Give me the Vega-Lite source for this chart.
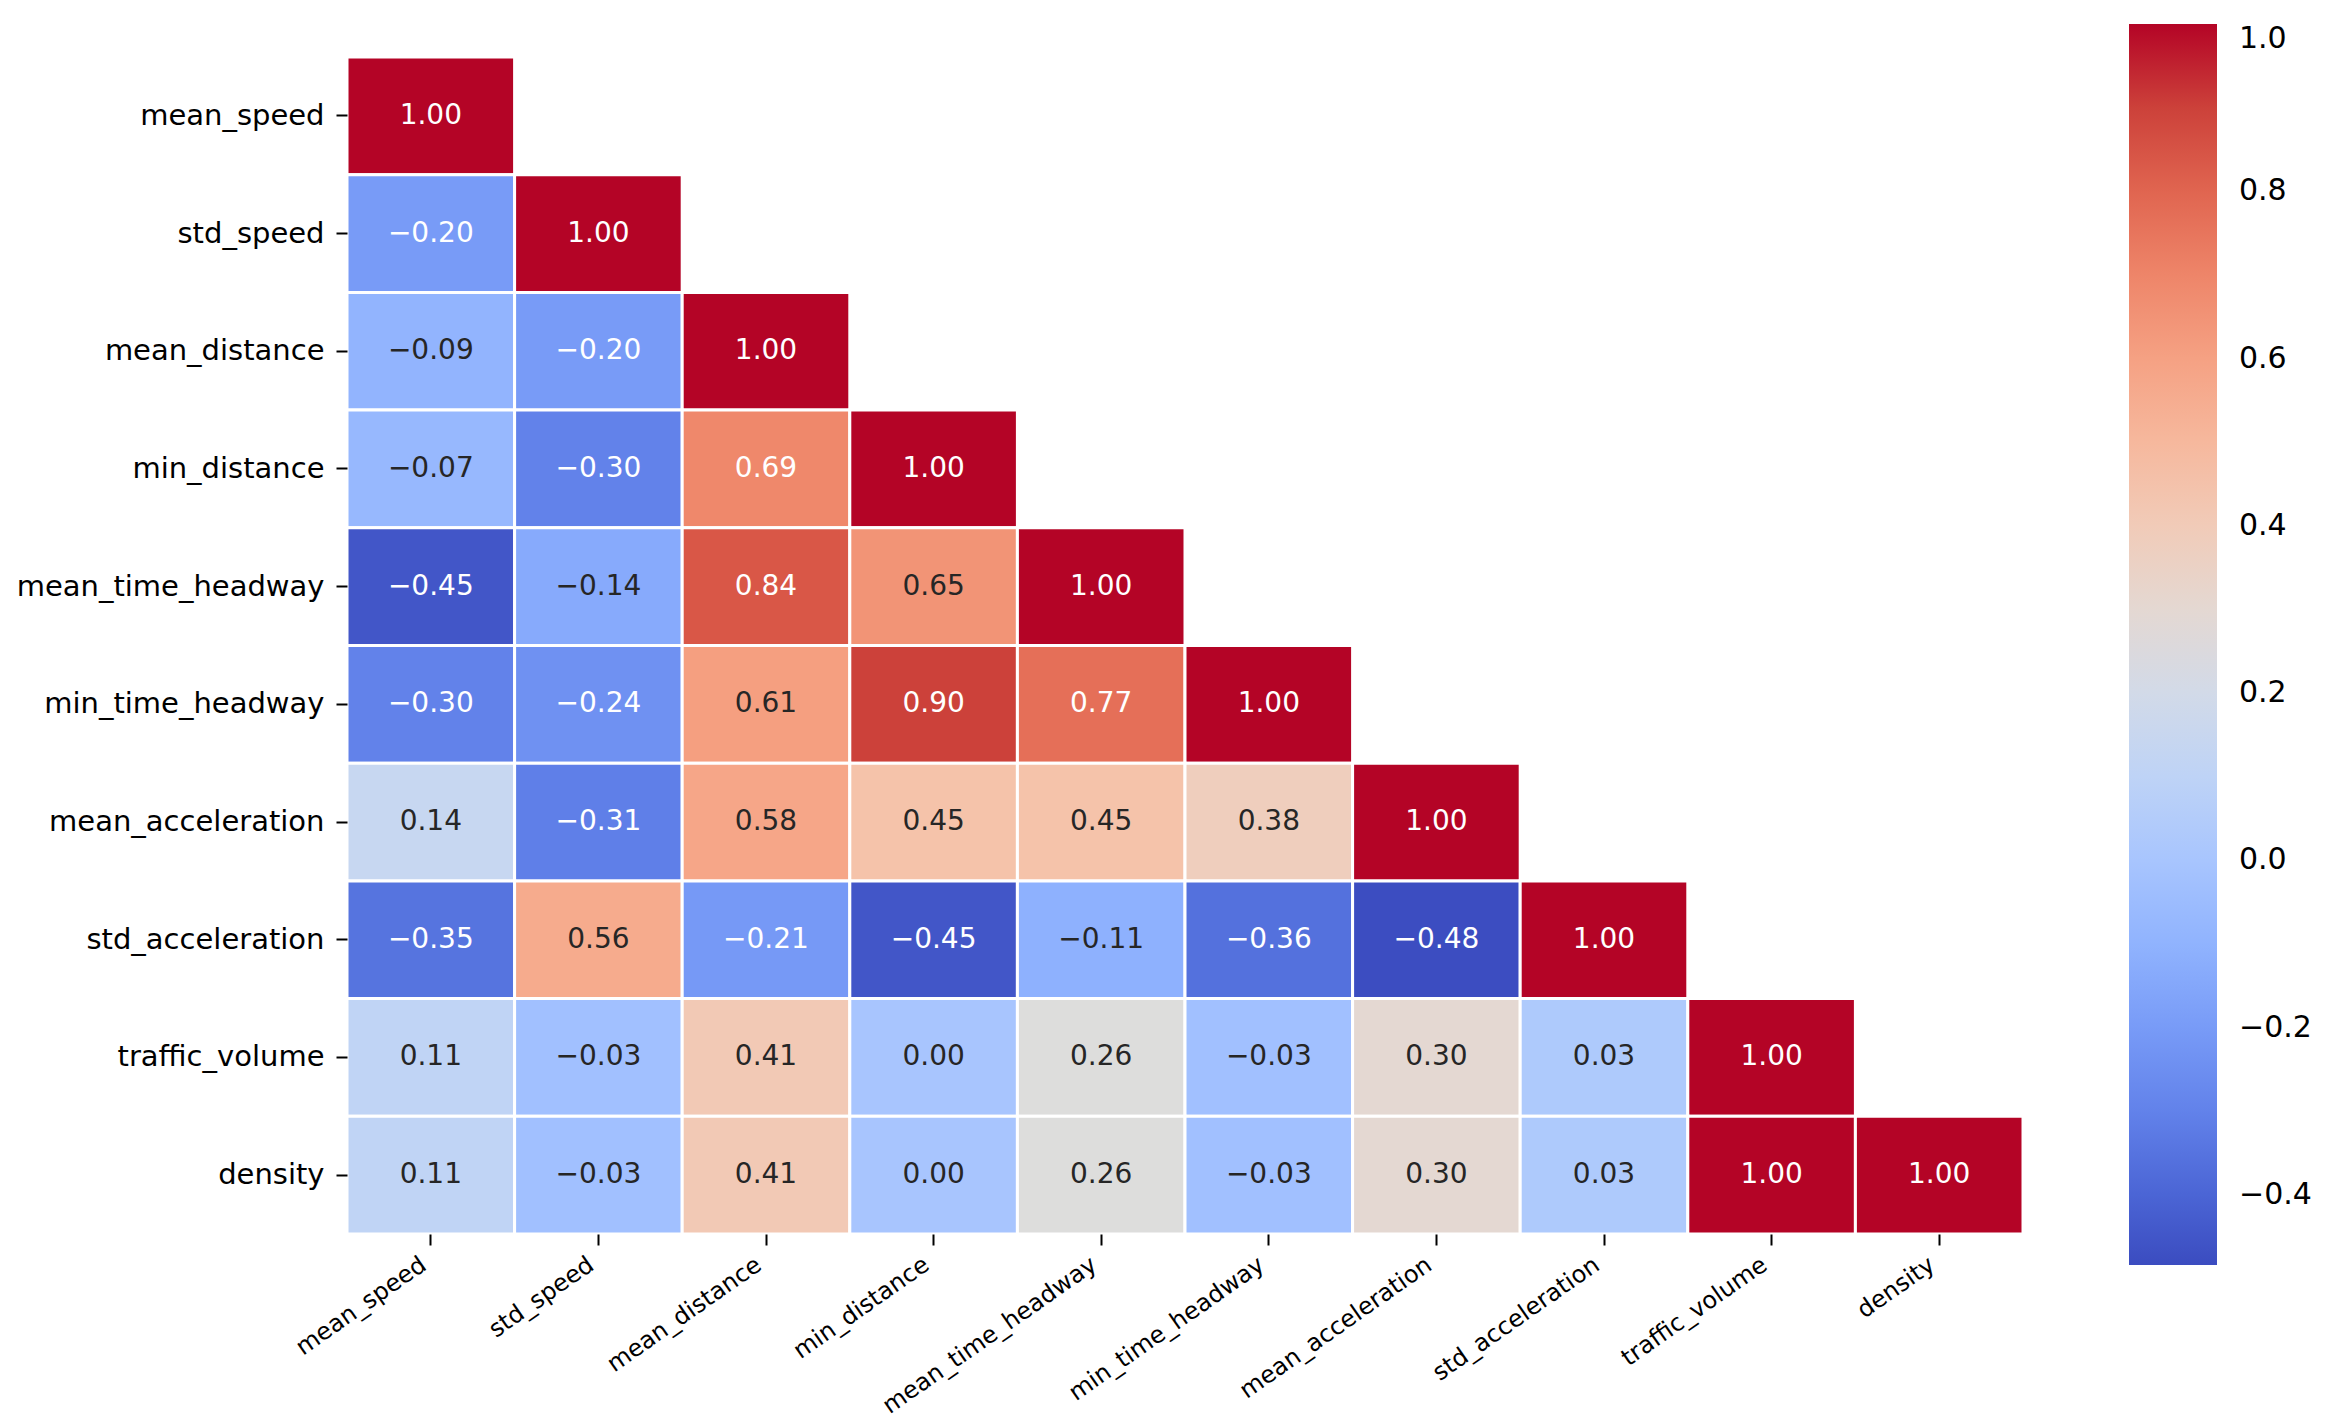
{
  "$schema": "https://vega.github.io/schema/vega-lite/v6.json",
  "autosize": {"type": "none"},
  "padding": {"left": 347, "top": 57, "right": 302, "bottom": 194},
  "width": 1676,
  "height": 1177,
  "background": "white",
  "config": {
    "view": {"stroke": null},
    "font": "DejaVu Sans",
    "axis": {"labelFont": "DejaVu Sans", "labelFontSize": 29, "labelColor": "black", "labelLimit": 1000, "tickColor": "black", "tickWidth": 2, "tickSize": 11, "domain": false, "grid": false, "title": null},
    "legend": {"labelFont": "DejaVu Sans", "labelFontSize": 30, "labelColor": "black", "labelLimit": 1000}
  },
  "data": {"values": [
    {"row": "mean_speed", "col": "mean_speed", "value": 1.00},
    {"row": "std_speed", "col": "mean_speed", "value": -0.20},
    {"row": "std_speed", "col": "std_speed", "value": 1.00},
    {"row": "mean_distance", "col": "mean_speed", "value": -0.09},
    {"row": "mean_distance", "col": "std_speed", "value": -0.20},
    {"row": "mean_distance", "col": "mean_distance", "value": 1.00},
    {"row": "min_distance", "col": "mean_speed", "value": -0.07},
    {"row": "min_distance", "col": "std_speed", "value": -0.30},
    {"row": "min_distance", "col": "mean_distance", "value": 0.69},
    {"row": "min_distance", "col": "min_distance", "value": 1.00},
    {"row": "mean_time_headway", "col": "mean_speed", "value": -0.45},
    {"row": "mean_time_headway", "col": "std_speed", "value": -0.14},
    {"row": "mean_time_headway", "col": "mean_distance", "value": 0.84},
    {"row": "mean_time_headway", "col": "min_distance", "value": 0.65},
    {"row": "mean_time_headway", "col": "mean_time_headway", "value": 1.00},
    {"row": "min_time_headway", "col": "mean_speed", "value": -0.30},
    {"row": "min_time_headway", "col": "std_speed", "value": -0.24},
    {"row": "min_time_headway", "col": "mean_distance", "value": 0.61},
    {"row": "min_time_headway", "col": "min_distance", "value": 0.90},
    {"row": "min_time_headway", "col": "mean_time_headway", "value": 0.77},
    {"row": "min_time_headway", "col": "min_time_headway", "value": 1.00},
    {"row": "mean_acceleration", "col": "mean_speed", "value": 0.14},
    {"row": "mean_acceleration", "col": "std_speed", "value": -0.31},
    {"row": "mean_acceleration", "col": "mean_distance", "value": 0.58},
    {"row": "mean_acceleration", "col": "min_distance", "value": 0.45},
    {"row": "mean_acceleration", "col": "mean_time_headway", "value": 0.45},
    {"row": "mean_acceleration", "col": "min_time_headway", "value": 0.38},
    {"row": "mean_acceleration", "col": "mean_acceleration", "value": 1.00},
    {"row": "std_acceleration", "col": "mean_speed", "value": -0.35},
    {"row": "std_acceleration", "col": "std_speed", "value": 0.56},
    {"row": "std_acceleration", "col": "mean_distance", "value": -0.21},
    {"row": "std_acceleration", "col": "min_distance", "value": -0.45},
    {"row": "std_acceleration", "col": "mean_time_headway", "value": -0.11},
    {"row": "std_acceleration", "col": "min_time_headway", "value": -0.36},
    {"row": "std_acceleration", "col": "mean_acceleration", "value": -0.48},
    {"row": "std_acceleration", "col": "std_acceleration", "value": 1.00},
    {"row": "traffic_volume", "col": "mean_speed", "value": 0.11},
    {"row": "traffic_volume", "col": "std_speed", "value": -0.03},
    {"row": "traffic_volume", "col": "mean_distance", "value": 0.41},
    {"row": "traffic_volume", "col": "min_distance", "value": 0.00},
    {"row": "traffic_volume", "col": "mean_time_headway", "value": 0.26},
    {"row": "traffic_volume", "col": "min_time_headway", "value": -0.03},
    {"row": "traffic_volume", "col": "mean_acceleration", "value": 0.30},
    {"row": "traffic_volume", "col": "std_acceleration", "value": 0.03},
    {"row": "traffic_volume", "col": "traffic_volume", "value": 1.00},
    {"row": "density", "col": "mean_speed", "value": 0.11},
    {"row": "density", "col": "std_speed", "value": -0.03},
    {"row": "density", "col": "mean_distance", "value": 0.41},
    {"row": "density", "col": "min_distance", "value": 0.00},
    {"row": "density", "col": "mean_time_headway", "value": 0.26},
    {"row": "density", "col": "min_time_headway", "value": -0.03},
    {"row": "density", "col": "mean_acceleration", "value": 0.30},
    {"row": "density", "col": "std_acceleration", "value": 0.03},
    {"row": "density", "col": "traffic_volume", "value": 1.00},
    {"row": "density", "col": "density", "value": 1.00}
  ]},
  "encoding": {
    "x": {"field": "col", "type": "nominal",
      "sort": ["mean_speed", "std_speed", "mean_distance", "min_distance", "mean_time_headway", "min_time_headway", "mean_acceleration", "std_acceleration", "traffic_volume", "density"],
      "scale": {"paddingInner": 0, "paddingOuter": 0},
      "axis": {"orient": "bottom", "labelAngle": -35, "labelAlign": "right", "labelBaseline": "bottom", "labelPadding": 27, "labelFontSize": 24}},
    "y": {"field": "row", "type": "nominal",
      "sort": ["mean_speed", "std_speed", "mean_distance", "min_distance", "mean_time_headway", "min_time_headway", "mean_acceleration", "std_acceleration", "traffic_volume", "density"],
      "scale": {"paddingInner": 0, "paddingOuter": 0},
      "axis": {"orient": "left", "labelPadding": 12}}
  },
  "layer": [
    {
      "mark": {"type": "rect", "stroke": "white", "strokeWidth": 3},
      "encoding": {
        "color": {"field": "value", "type": "quantitative",
          "scale": {
            "domain": [-0.484, -0.39125, -0.2985, -0.20575, -0.113, -0.02025, 0.0725, 0.16525, 0.258, 0.35075, 0.4435, 0.53625, 0.629, 0.72175, 0.8145, 0.90725, 1.0],
            "range": ["#3b4cc0", "#4d68d7", "#6282ea", "#779af7", "#8db0fe", "#a3c2ff", "#b8d0f9", "#ccd9ee", "#dddddd", "#ecd3c5", "#f5c4ac", "#f7b193", "#f49a7b", "#ec7f63", "#de604d", "#cb3e38", "#b40426"],
            "interpolate": "rgb"},
          "legend": {"title": null, "orient": "none", "direction": "vertical", "legendX": 1782, "legendY": -33,
            "gradientLength": 1241, "gradientThickness": 88, "gradientStrokeWidth": 0,
            "values": [-0.4, -0.2, 0, 0.2, 0.4, 0.6, 0.8, 1.0], "format": ".1f",
            "labelOffset": 22, "labelBaseline": "middle", "labelAlign": "left", "labelOverlap": false}
        }
      }
    },
    {
      "mark": {"type": "text", "font": "DejaVu Sans", "fontSize": 28},
      "encoding": {
        "text": {"field": "value", "type": "quantitative", "format": ".2f"},
        "color": {"condition": {"test": "datum.value <= -0.15 || datum.value >= 0.66", "value": "white"}, "value": "#262626"}
      }
    }
  ]
}
